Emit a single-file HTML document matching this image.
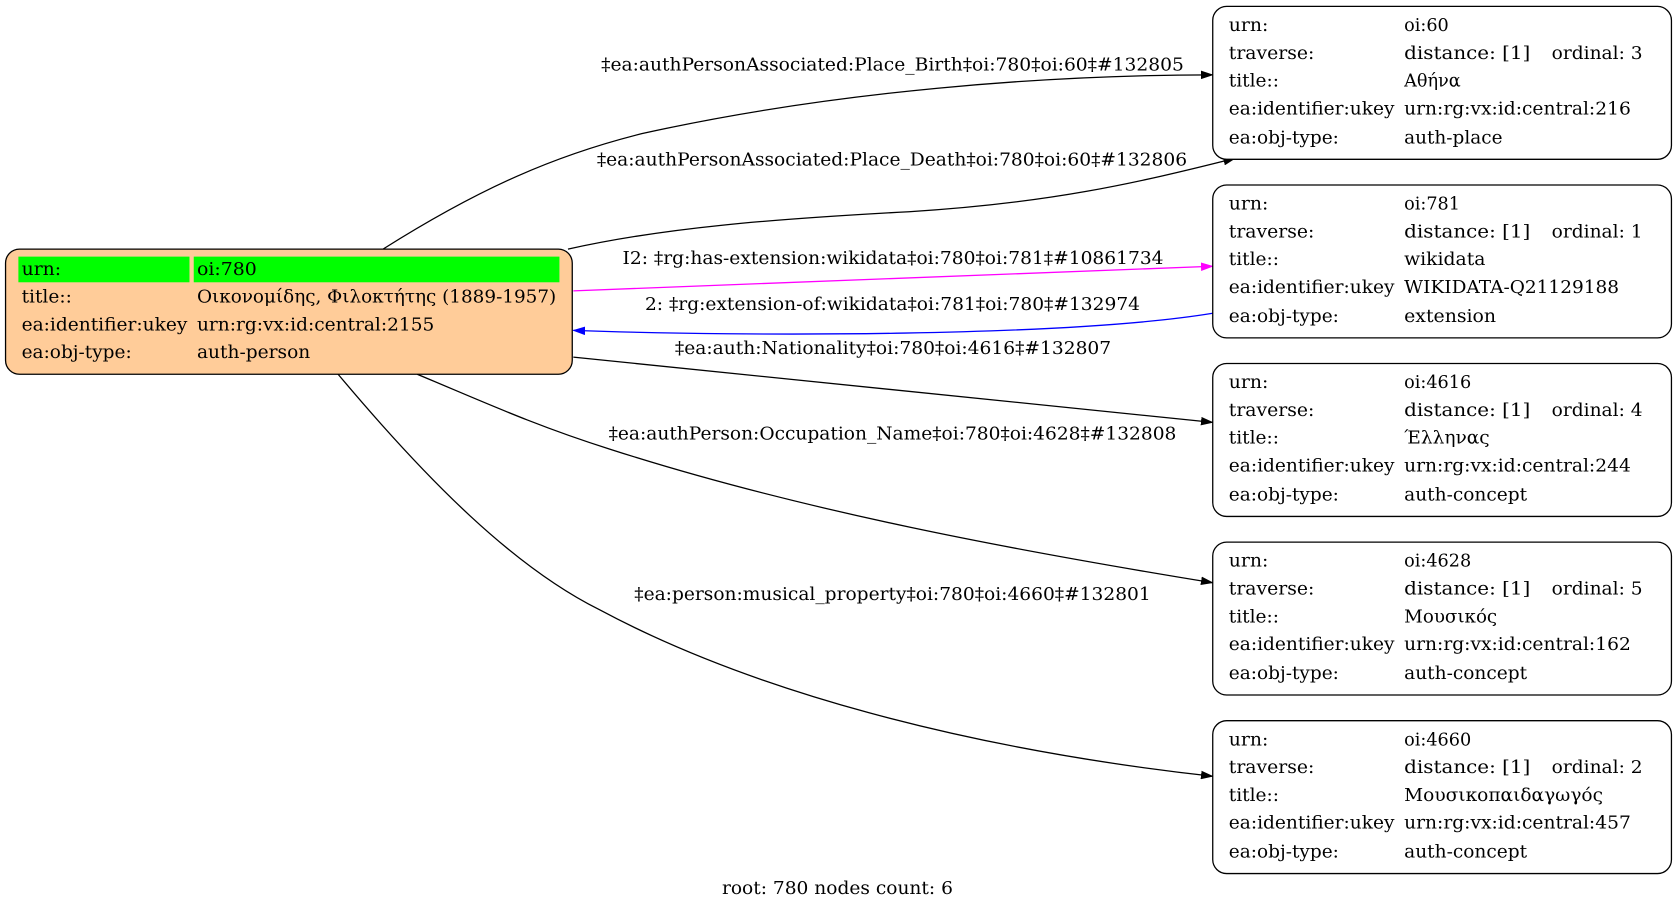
<!DOCTYPE html>
<html><head><meta charset="utf-8"><style>
html,body{margin:0;padding:0;background:#fff;}
svg{display:block}
text{font-family:"DejaVu Serif","Liberation Serif",serif;font-size:16.5px;fill:#000}
</style></head><body>
<svg width="1677" height="911" viewBox="0 0 1568 852" xmlns="http://www.w3.org/2000/svg">
<defs>
<marker id="ab" markerWidth="12" markerHeight="8" refX="11" refY="4" orient="auto" markerUnits="userSpaceOnUse"><path d="M0,0 L12,4 L0,8z" fill="#000"/></marker>
<marker id="am" markerWidth="12" markerHeight="8" refX="11" refY="4" orient="auto" markerUnits="userSpaceOnUse"><path d="M0,0 L12,4 L0,8z" fill="#f0f"/></marker>
<marker id="au" markerWidth="12" markerHeight="8" refX="11" refY="4" orient="auto" markerUnits="userSpaceOnUse"><path d="M0,0 L12,4 L0,8z" fill="#00f"/></marker>
</defs>
<g fill="none" stroke-width="1.2">
<path d="M358,233 C450,175 520,145 600,125 C780,85 980,70 1134,70" stroke="#000" marker-end="url(#ab)"/>
<path d="M531,233 C620,213 720,205 850,198 C980,190 1060,172 1155,148" stroke="#000" marker-end="url(#ab)"/>
<path d="M536,272 L1134,249" stroke="#f0f" marker-end="url(#am)"/>
<path d="M1134,293 C1000,315 700,315 536,309" stroke="#00f" marker-end="url(#au)"/>
<path d="M536,334 L1134,395" stroke="#000" marker-end="url(#ab)"/>
<path d="M390,350 C450,375 500,398 570,420 C750,478 950,515 1134,545" stroke="#000" marker-end="url(#ab)"/>
<path d="M316,350 C400,450 480,530 560,570 C700,645 900,700 1134,726" stroke="#000" marker-end="url(#ab)"/>
</g>
<g>
<text x="562" y="66" textLength="545" lengthAdjust="spacingAndGlyphs">‡ea:authPersonAssociated:Place_Birth‡oi:780‡oi:60‡#132805</text>
<text x="558" y="155" textLength="552" lengthAdjust="spacingAndGlyphs">‡ea:authPersonAssociated:Place_Death‡oi:780‡oi:60‡#132806</text>
<text x="582" y="247" textLength="506" lengthAdjust="spacingAndGlyphs">I2: ‡rg:has-extension:wikidata‡oi:780‡oi:781‡#10861734</text>
<text x="603" y="290" textLength="463" lengthAdjust="spacingAndGlyphs">2: ‡rg:extension-of:wikidata‡oi:781‡oi:780‡#132974</text>
<text x="631" y="331" textLength="408" lengthAdjust="spacingAndGlyphs">‡ea:auth:Nationality‡oi:780‡oi:4616‡#132807</text>
<text x="569" y="411" textLength="531" lengthAdjust="spacingAndGlyphs">‡ea:authPerson:Occupation_Name‡oi:780‡oi:4628‡#132808</text>
<text x="593" y="561" textLength="483" lengthAdjust="spacingAndGlyphs">‡ea:person:musical_property‡oi:780‡oi:4660‡#132801</text>
<text x="675" y="836" textLength="216" lengthAdjust="spacingAndGlyphs">root: 780 nodes count: 6</text>
</g>
<!-- root -->
<rect x="5" y="233" width="530" height="117" rx="13" fill="#ffcc99" stroke="#000" stroke-width="1.2"/>
<rect x="17" y="240" width="160" height="24" fill="#00ff00"/>
<rect x="181" y="240" width="342" height="24" fill="#00ff00"/>
<text x="20" y="257" textLength="37" lengthAdjust="spacingAndGlyphs">urn:</text><text x="184" y="257" textLength="56" lengthAdjust="spacingAndGlyphs">oi:780</text>
<text x="20" y="283" textLength="47" lengthAdjust="spacingAndGlyphs">title::</text><text x="184" y="283" textLength="336" lengthAdjust="spacingAndGlyphs">Οικονομίδης, Φιλοκτήτης (1889-1957)</text>
<text x="20" y="309" textLength="155" lengthAdjust="spacingAndGlyphs">ea:identifier:ukey</text><text x="184" y="309" textLength="222" lengthAdjust="spacingAndGlyphs">urn:rg:vx:id:central:2155</text>
<text x="20" y="335" textLength="103" lengthAdjust="spacingAndGlyphs">ea:obj-type:</text><text x="184" y="335" textLength="106" lengthAdjust="spacingAndGlyphs">auth-person</text>
<!-- right nodes -->
<g>
<rect x="1134" y="6" width="429" height="143" rx="13" fill="#fff" stroke="#000" stroke-width="1.2"/>
<text x="1149" y="29" textLength="37" lengthAdjust="spacingAndGlyphs">urn:</text><text x="1313" y="29">oi:60</text>
<text x="1149" y="55" textLength="80" lengthAdjust="spacingAndGlyphs">traverse:</text><text x="1313" y="55" textLength="118" lengthAdjust="spacingAndGlyphs">distance: [1]</text><text x="1451" y="55" textLength="85" lengthAdjust="spacingAndGlyphs">ordinal: 3</text>
<text x="1149" y="81" textLength="47" lengthAdjust="spacingAndGlyphs">title::</text><text x="1313" y="81">Αθήνα</text>
<text x="1149" y="107" textLength="155" lengthAdjust="spacingAndGlyphs">ea:identifier:ukey</text><text x="1313" y="107" textLength="212" lengthAdjust="spacingAndGlyphs">urn:rg:vx:id:central:216</text>
<text x="1149" y="134" textLength="103" lengthAdjust="spacingAndGlyphs">ea:obj-type:</text><text x="1313" y="134" textLength="92" lengthAdjust="spacingAndGlyphs">auth-place</text>
</g>
<g transform="translate(0,167)">
<rect x="1134" y="6" width="429" height="143" rx="13" fill="#fff" stroke="#000" stroke-width="1.2"/>
<text x="1149" y="29" textLength="37" lengthAdjust="spacingAndGlyphs">urn:</text><text x="1313" y="29">oi:781</text>
<text x="1149" y="55" textLength="80" lengthAdjust="spacingAndGlyphs">traverse:</text><text x="1313" y="55" textLength="118" lengthAdjust="spacingAndGlyphs">distance: [1]</text><text x="1451" y="55" textLength="85" lengthAdjust="spacingAndGlyphs">ordinal: 1</text>
<text x="1149" y="81" textLength="47" lengthAdjust="spacingAndGlyphs">title::</text><text x="1313" y="81" textLength="76" lengthAdjust="spacingAndGlyphs">wikidata</text>
<text x="1149" y="107" textLength="155" lengthAdjust="spacingAndGlyphs">ea:identifier:ukey</text><text x="1313" y="107" textLength="201" lengthAdjust="spacingAndGlyphs">WIKIDATA-Q21129188</text>
<text x="1149" y="134" textLength="103" lengthAdjust="spacingAndGlyphs">ea:obj-type:</text><text x="1313" y="134" textLength="86" lengthAdjust="spacingAndGlyphs">extension</text>
</g>
<g transform="translate(0,334)">
<rect x="1134" y="6" width="429" height="143" rx="13" fill="#fff" stroke="#000" stroke-width="1.2"/>
<text x="1149" y="29" textLength="37" lengthAdjust="spacingAndGlyphs">urn:</text><text x="1313" y="29">oi:4616</text>
<text x="1149" y="55" textLength="80" lengthAdjust="spacingAndGlyphs">traverse:</text><text x="1313" y="55" textLength="118" lengthAdjust="spacingAndGlyphs">distance: [1]</text><text x="1451" y="55" textLength="85" lengthAdjust="spacingAndGlyphs">ordinal: 4</text>
<text x="1149" y="81" textLength="47" lengthAdjust="spacingAndGlyphs">title::</text><text x="1313" y="81" textLength="80" lengthAdjust="spacingAndGlyphs">Έλληνας</text>
<text x="1149" y="107" textLength="155" lengthAdjust="spacingAndGlyphs">ea:identifier:ukey</text><text x="1313" y="107" textLength="212" lengthAdjust="spacingAndGlyphs">urn:rg:vx:id:central:244</text>
<text x="1149" y="134" textLength="103" lengthAdjust="spacingAndGlyphs">ea:obj-type:</text><text x="1313" y="134" textLength="115" lengthAdjust="spacingAndGlyphs">auth-concept</text>
</g>
<g transform="translate(0,501)">
<rect x="1134" y="6" width="429" height="143" rx="13" fill="#fff" stroke="#000" stroke-width="1.2"/>
<text x="1149" y="29" textLength="37" lengthAdjust="spacingAndGlyphs">urn:</text><text x="1313" y="29">oi:4628</text>
<text x="1149" y="55" textLength="80" lengthAdjust="spacingAndGlyphs">traverse:</text><text x="1313" y="55" textLength="118" lengthAdjust="spacingAndGlyphs">distance: [1]</text><text x="1451" y="55" textLength="85" lengthAdjust="spacingAndGlyphs">ordinal: 5</text>
<text x="1149" y="81" textLength="47" lengthAdjust="spacingAndGlyphs">title::</text><text x="1313" y="81" textLength="87" lengthAdjust="spacingAndGlyphs">Μουσικός</text>
<text x="1149" y="107" textLength="155" lengthAdjust="spacingAndGlyphs">ea:identifier:ukey</text><text x="1313" y="107" textLength="212" lengthAdjust="spacingAndGlyphs">urn:rg:vx:id:central:162</text>
<text x="1149" y="134" textLength="103" lengthAdjust="spacingAndGlyphs">ea:obj-type:</text><text x="1313" y="134" textLength="115" lengthAdjust="spacingAndGlyphs">auth-concept</text>
</g>
<g transform="translate(0,668)">
<rect x="1134" y="6" width="429" height="143" rx="13" fill="#fff" stroke="#000" stroke-width="1.2"/>
<text x="1149" y="29" textLength="37" lengthAdjust="spacingAndGlyphs">urn:</text><text x="1313" y="29">oi:4660</text>
<text x="1149" y="55" textLength="80" lengthAdjust="spacingAndGlyphs">traverse:</text><text x="1313" y="55" textLength="118" lengthAdjust="spacingAndGlyphs">distance: [1]</text><text x="1451" y="55" textLength="85" lengthAdjust="spacingAndGlyphs">ordinal: 2</text>
<text x="1149" y="81" textLength="47" lengthAdjust="spacingAndGlyphs">title::</text><text x="1313" y="81" textLength="186" lengthAdjust="spacingAndGlyphs">Μουσικοπαιδαγωγός</text>
<text x="1149" y="107" textLength="155" lengthAdjust="spacingAndGlyphs">ea:identifier:ukey</text><text x="1313" y="107" textLength="212" lengthAdjust="spacingAndGlyphs">urn:rg:vx:id:central:457</text>
<text x="1149" y="134" textLength="103" lengthAdjust="spacingAndGlyphs">ea:obj-type:</text><text x="1313" y="134" textLength="115" lengthAdjust="spacingAndGlyphs">auth-concept</text>
</g>
</svg>
</body></html>
